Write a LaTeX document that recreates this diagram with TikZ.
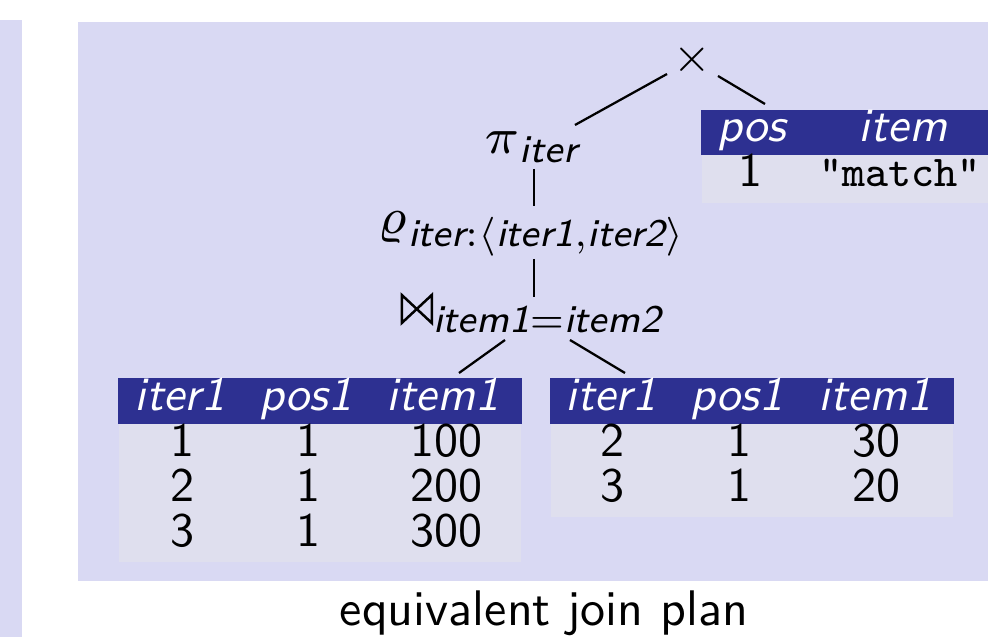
\RequirePackage{fix-cm}
\documentclass[tikz,border=0pt]{standalone}
\usepackage{amsmath}
\usepackage{graphicx}
\DeclareMathSizes{9.8}{9.8}{7.8}{6}

\definecolor{panelbg}{RGB}{217,217,243}
\definecolor{cellbg}{RGB}{223,223,238}
\definecolor{headbg}{RGB}{45,48,145}

% sans italic attribute names inside formulas
\newcommand{\att}[1]{\text{\sffamily\itshape #1}}
% operator letters, set from the small design size and enlarged
\newcommand{\opsym}[1]{\mathord{\scalebox{1.3}{$\scriptstyle#1$}}}
% hand-drawn join symbol
\newcommand{\joinsym}{\mathrel{\tikz[baseline=0pt,line width=0.5pt,line join=miter]
  \draw (0,0) -- (0,5.6pt) -- (6pt,0) -- (6pt,5.6pt) -- cycle;}}

\tikzset{
  tx/.style={inner sep=0pt, anchor=base, font=\fontsize{9.6}{11}\selectfont\sffamily},
  hd/.style={tx, text=white, font=\fontsize{9.6}{11}\selectfont\sffamily\itshape},
  tt/.style={inner sep=0pt, anchor=base, font=\fontsize{8.8}{11}\selectfont\ttfamily},
  op/.style={inner sep=0pt, anchor=base, font=\fontsize{9.8}{11}\selectfont},
  tab/.style={inner sep=0pt, anchor=north west, fill=cellbg},
  edge/.style={line width=0.45pt},
}

\begin{document}
\begin{tikzpicture}[x=0.2pt,y=-0.2pt]
\useasboundingbox (0,0) rectangle (988,637);

% background panels
\fill[panelbg] (0,20) rectangle (22,637);
\fill[panelbg] (78,22) rectangle (988,581);

% operators
\node[inner sep=0pt, font=\fontsize{9.4}{11}\selectfont] (times) at (692,60) {$\times$};
\node[op] (pi) at (532,154) {$\opsym{\pi}_{\att{iter}}$};
\node[op] (rho) at (532,234) {$\opsym{\varrho}_{\att{iter}:\langle\att{iter1},\att{iter2}\rangle}$};
\node[op] (join) at (532,323) {$\joinsym_{\att{item1}=\att{item2}}$};

% top right table
\node[tab, minimum width=57.4pt, minimum height=18.4pt] (tt) at (701,110) {};
\fill[headbg] (tt.north west) rectangle ([shift={(0,45)}]tt.north east);
\node[hd] (tth1) at (752,142) {pos};
\node[hd] (tth2) at (903,142) {item};
\node[tx] (ttb1) at (750,187) {1};
\node[tt] (ttb2) at (900,187) {"match"};

% left table
\node[tab, minimum width=80.4pt, minimum height=36.6pt] (lt) at (118,378) {};
\fill[headbg] (lt.north west) rectangle ([shift={(0,46)}]lt.north east);
\node[hd] (lth1) at (180,411) {iter1};
\node[hd] (lth2) at (306,411) {pos1};
\node[hd] (lth3) at (443,411) {item1};
\node[tx] (lta1) at (182,457) {1};
\node[tx] (lta2) at (308,457) {1};
\node[tx] (lta3) at (446,457) {100};
\node[tx] (ltb1) at (182,502) {2};
\node[tx] (ltb2) at (308,502) {1};
\node[tx] (ltb3) at (446,502) {200};
\node[tx] (ltc1) at (182,547) {3};
\node[tx] (ltc2) at (308,547) {1};
\node[tx] (ltc3) at (446,547) {300};

% right table
\node[tab, minimum width=80.4pt, minimum height=27.6pt] (rt) at (550,378) {};
\fill[headbg] (rt.north west) rectangle ([shift={(0,46)}]rt.north east);
\node[hd] (rth1) at (611,411) {iter1};
\node[hd] (rth2) at (737,411) {pos1};
\node[hd] (rth3) at (875,411) {item1};
\node[tx] (rta1) at (612,457) {2};
\node[tx] (rta2) at (739,457) {1};
\node[tx] (rta3) at (876,457) {30};
\node[tx] (rtb1) at (612,502) {3};
\node[tx] (rtb2) at (739,502) {1};
\node[tx] (rtb3) at (876,502) {20};

% plan edges
\draw[edge] ([shift={(-25,14)}]times.center) -- ([shift={(43,-29)}]pi.base);
\draw[edge] ([shift={(26,16)}]times.center) -- ([shift={(64,-6)}]tt.north west);
\draw[edge] ([shift={(2,15)}]pi.base) -- ([shift={(2,-28)}]rho.base);
\draw[edge] ([shift={(2,25)}]rho.base) -- ([shift={(2,-26)}]join.base);
\draw[edge] ([shift={(-27,17)}]join.base) -- ([shift={(-63,-5)}]lt.north east);
\draw[edge] ([shift={(38,17)}]join.base) -- ([shift={(75,-5)}]rt.north west);

% caption
\node[tx, font=\fontsize{10}{12}\selectfont\sffamily] (cap) at (544,626) {equivalent join plan};
\end{tikzpicture}
\end{document}
